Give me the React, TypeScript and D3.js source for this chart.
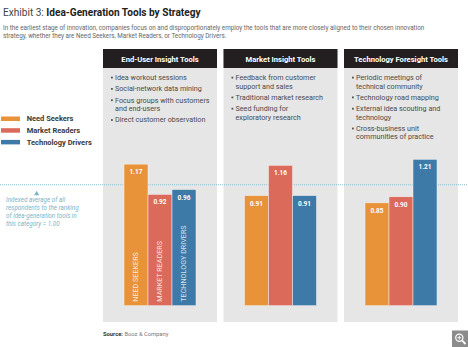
import React from "react";
import * as d3 from "d3";

const categories = ["End-User Insight Tools", "Market Insight Tools", "Technology Foresight Tools"];
const seriesNames = ["Need Seekers", "Market Readers", "Technology Drivers"];
const barLabels = ["NEED SEEKERS", "MARKET READERS", "TECHNOLOGY DRIVERS"];
const needSeekers = [1.17, 0.91, 0.85];
const marketReaders = [0.92, 1.16, 0.9];
const technologyDrivers = [0.96, 0.91, 1.21];
const bulletLists: string[][][] = [
  [["Idea workout sessions"], ["Social-network data mining"], ["Focus groups with customers", "and end-users"], ["Direct customer observation"]],
  [["Feedback from customer", "support and sales"], ["Traditional market research"], ["Seed funding for", "exploratory research"]],
  [["Periodic meetings of", "technical community"], ["Technology road mapping"], ["External idea scouting and", "technology"], ["Cross-business unit", "communities of practice"]],
];
const annotationLines = ["Indexed average of all", "respondents to the ranking", "of idea-generation tools in", "this category = 1.00"];
const referenceValue = 1.0;

const colors = ["#e8923a", "#dc6a5b", "#3e7aa7"];
const FONT = "Roboto, 'DejaVu Sans', sans-serif";

export default function App() {
  const W = 468, H = 347;
  const values = [needSeekers, marketReaders, technologyDrivers];
  const xPanel = d3.scaleBand<string>().domain(categories).range([103, 458]).paddingInner(0.054).paddingOuter(0);
  const pw = xPanel.bandwidth();
  const groupW = 72;
  const xSeries = d3.scaleBand<string>().domain(seriesNames).range([(pw - groupW) / 2, (pw + groupW) / 2]).padding(0);
  const baseY = 305.7;
  const y = d3.scaleLinear().domain([0, 1.21]).range([baseY, 159.3]);
  const refY = y(referenceValue);
  const panelTop = 49, panelBottom = 322, headerH = 19;

  return (
    <svg width={W} height={H} style={{ position: "absolute", left: 0, top: 0, background: "#fff" }} fontFamily={FONT}>
      <rect x={0} y={0} width={W} height={H} fill="#fff" />
      {/* Title */}
      <text x={3} y={16} fontSize={10.1} fill="#444">
        Exhibit 3: <tspan fontWeight={700} fill="#222">Idea-Generation Tools by Strategy</tspan>
      </text>
      <text x={3} y={29.5} fontSize={6.3} fill="#666">
        In the earliest stage of innovation, companies focus on and disproportionately employ the tools that are more closely aligned to their chosen innovation
      </text>
      <text x={3} y={38} fontSize={6.3} fill="#666">
        strategy, whether they are Need Seekers, Market Readers, or Technology Drivers.
      </text>

      {/* Panels */}
      {categories.map((c, i) => {
        const px = xPanel(c)!;
        let ly = 80;
        const lines: JSX.Element[] = [];
        bulletLists[i].forEach((item, k) => {
          if (k > 0) ly += 11.3;
          item.forEach((ln, j) => {
            if (j > 0) ly += 8.5;
            lines.push(
              <g key={`${k}-${j}`}>
                {j === 0 && <rect x={px + 8} y={ly - 3.3} width={1.8} height={1.8} fill="#555" />}
                <text x={px + 12} y={ly} fontSize={7.2} fill="#4a4a4a">{ln}</text>
              </g>
            );
          });
        });
        return (
          <g key={c}>
            <rect x={px} y={panelTop} width={pw} height={panelBottom - panelTop} fill="#e6e6e6" />
            <rect x={px} y={panelTop} width={pw} height={headerH} fill="#231f20" />
            <text x={px + pw / 2} y={panelTop + 12.7} fontSize={7.6} fontWeight={700} fill="#fff" textAnchor="middle">{c}</text>
            {lines}
          </g>
        );
      })}

      {/* Reference dotted line */}
      <line x1={0} x2={W} y1={refY} y2={refY} stroke="#8ebfd0" strokeWidth={1} strokeDasharray="1,1" />

      {/* Bars */}
      {categories.map((c, i) => {
        const px = xPanel(c)!;
        return (
          <g key={"b" + c} transform={`translate(${px},0)`}>
            {seriesNames.map((s, si) => {
              const v = values[si][i];
              const bx = xSeries(s)!;
              const bw = xSeries.bandwidth();
              const top = y(v);
              return (
                <g key={s}>
                  <rect x={bx} y={top} width={bw} height={baseY - top} fill={colors[si]} stroke="#f4f4f4" strokeWidth={0.5} />
                  <text x={bx + bw / 2} y={top + 10} fontSize={6.5} fontWeight={700} fill="#fff" textAnchor="middle">{v.toFixed(2)}</text>
                  {i === 0 && (
                    <text transform={`translate(${bx + bw / 2 + 2.5},${baseY - 4}) rotate(-90)`} fontSize={7.2} fill="#fff" fillOpacity={0.8} textAnchor="start">{barLabels[si]}</text>
                  )}
                </g>
              );
            })}
          </g>
        );
      })}

      {/* Annotation */}
      <path d={`M36.7,${refY + 6} L39.3,${refY + 10.5} L34.1,${refY + 10.5} Z`} fill="#7fb3c6" />
      {annotationLines.map((t, k) => (
        <text key={t} x={6} y={refY + 17.5 + k * 8} fontSize={6.3} fontStyle="italic" fill="#7fb3c6">{t}</text>
      ))}

      {/* Legend */}
      {seriesNames.map((s, si) => (
        <g key={"l" + s}>
          <rect x={1} y={116.5 + si * 11.7} width={19} height={4.5} fill={colors[si]} />
          <text x={26.7} y={121.4 + si * 11.7} fontSize={7.5} fontWeight={700} fill="#3a3a3a">{s}</text>
        </g>
      ))}

      {/* Source */}
      <text x={103} y={335.5} fontSize={5.8} fill="#777">
        <tspan fontWeight={700} fill="#333">Source:</tspan> Booz &amp; Company
      </text>

      {/* Zoom icon */}
      <rect x={452} y={330.5} width={16} height={16.5} fill="#8c8c8c" />
      <circle cx={459.3} cy={337.7} r={3.6} fill="none" stroke="#fff" strokeWidth={1.2} />
      <line x1={462} y1={340.4} x2={465.5} y2={344} stroke="#fff" strokeWidth={1.8} />
      <line x1={457.4} x2={461.2} y1={337.7} y2={337.7} stroke="#fff" strokeWidth={0.9} />
      <line x1={459.3} x2={459.3} y1={335.8} y2={339.6} stroke="#fff" strokeWidth={0.9} />
    </svg>
  );
}
